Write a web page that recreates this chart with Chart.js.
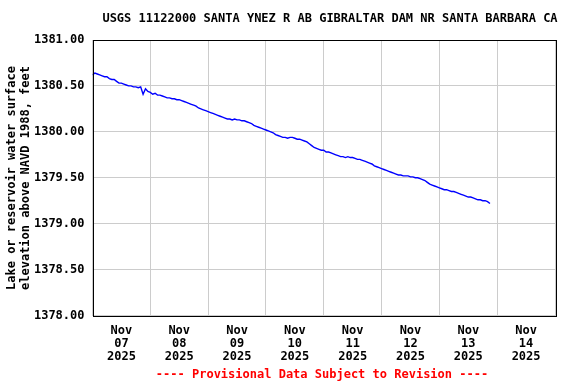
<!DOCTYPE html>
<html>
<head>
<meta charset="utf-8">
<script src="https://cdn.jsdelivr.net/npm/chart.js@4"></script>
<style>
html,body{margin:0;padding:0;background:#fff;}
canvas{display:block;}
</style>
</head>
<body>
<canvas id="c" width="576" height="384"></canvas>
<script>
// Hourly gage height readings, starting Nov 07 2025 00:00 (feet, NAVD 1988)
const elevation = [
 1380.62,1380.64,1380.63,1380.62,1380.61,1380.60,1380.60,1380.58,1380.57,1380.57,1380.55,1380.53,
 1380.53,1380.52,1380.51,1380.50,1380.50,1380.49,1380.49,1380.48,1380.49,1380.41,1380.47,1380.44,
 1380.43,1380.41,1380.42,1380.40,1380.40,1380.39,1380.38,1380.37,1380.37,1380.36,1380.36,1380.35,
 1380.35,1380.34,1380.33,1380.32,1380.31,1380.30,1380.29,1380.28,1380.26,1380.25,1380.24,1380.23,
 1380.22,1380.21,1380.20,1380.19,1380.18,1380.17,1380.16,1380.15,1380.14,1380.14,1380.13,1380.14,
 1380.13,1380.13,1380.12,1380.12,1380.11,1380.10,1380.09,1380.07,1380.06,1380.05,1380.04,1380.03,
 1380.02,1380.01,1380.00,1379.99,1379.97,1379.96,1379.95,1379.94,1379.94,1379.93,1379.94,1379.94,
 1379.93,1379.92,1379.92,1379.91,1379.90,1379.89,1379.87,1379.85,1379.83,1379.82,1379.81,1379.80,
 1379.80,1379.78,1379.78,1379.77,1379.76,1379.75,1379.74,1379.73,1379.73,1379.72,1379.73,1379.72,
 1379.72,1379.71,1379.70,1379.70,1379.69,1379.68,1379.67,1379.66,1379.65,1379.63,1379.62,1379.61,
 1379.60,1379.59,1379.58,1379.57,1379.56,1379.55,1379.54,1379.53,1379.53,1379.52,1379.52,1379.52,
 1379.51,1379.51,1379.50,1379.50,1379.49,1379.48,1379.47,1379.45,1379.43,1379.42,1379.41,1379.40,
 1379.39,1379.38,1379.37,1379.37,1379.36,1379.35,1379.35,1379.34,1379.33,1379.32,1379.31,1379.30,
 1379.29,1379.29,1379.28,1379.27,1379.26,1379.26,1379.25,1379.25,1379.24,1379.22
];
const monthLabel = 'Nov';
const yearLabel = '2025';
const dayLabels = ['07','08','09','10','11','12','13','14'];
const yTicks = [1378.0,1378.5,1379.0,1379.5,1380.0,1380.5,1381.0];
const titleText = 'USGS 11122000 SANTA YNEZ R AB GIBRALTAR DAM NR SANTA BARBARA CA';
const yTitleLines = ['Lake or reservoir water surface','elevation above NAVD 1988, feet'];
const footerText = '---- Provisional Data Subject to Revision ----';

const FONT = '"DejaVu Sans Mono", "Liberation Mono", monospace';
const points = elevation.map((v,i)=>({x:i, y:v}));

const textPlugin = {
  id:'texts',
  afterDraw(chart){
    const ctx = chart.ctx, a = chart.chartArea;
    ctx.save();
    ctx.strokeStyle = '#000';
    ctx.lineWidth = 1;
    ctx.strokeRect(Math.round(a.left)+0.5, Math.round(a.top)+0.5, Math.round(a.right-a.left), Math.round(a.bottom-a.top));
    ctx.font = 'bold 12px ' + FONT;
    ctx.fillStyle = '#000';
    ctx.textAlign = 'center';
    ctx.textBaseline = 'middle';
    ctx.fillText(titleText, 330, 19);
    ctx.save();
    ctx.translate(0, 178);
    ctx.rotate(-Math.PI/2);
    ctx.fillText(yTitleLines[0], 0, 12);
    ctx.fillText(yTitleLines[1], 0, 26);
    ctx.restore();
    ctx.fillStyle = '#ff0000';
    ctx.fillText(footerText, 322, 375);
    ctx.restore();
  }
};

new Chart(document.getElementById('c'), {
  type:'line',
  data:{datasets:[{data:points, borderColor:'#0000ff', borderWidth:1.4, pointRadius:0, tension:0, fill:false}]},
  options:{
    responsive:false, animation:false, devicePixelRatio:1,
    layout:{padding:{top:40, right:21, bottom:0, left:0}},
    plugins:{legend:{display:false}, tooltip:{enabled:false}, title:{display:false}},
    scales:{
      x:{
        type:'linear', min:0, max:192,
        afterBuildTicks(s){ const t=[]; for(let h=0;h<=192;h+=12) t.push({value:h}); s.ticks=t; },
        afterFit(s){ s.height = 68.5; },
        grid:{drawTicks:false, lineWidth:1, color:(c)=> (c.tick && c.tick.value%24===0) ? '#cccccc' : 'rgba(0,0,0,0)'},
        border:{display:false},
        ticks:{autoSkip:false, maxRotation:0, minRotation:0, padding:9, color:'#000',
          font:{family:FONT, size:12, weight:'bold', lineHeight:1.08},
          callback:(v)=> (v%24===12) ? [monthLabel, dayLabels[Math.floor(v/24)], yearLabel] : ''}
      },
      y:{
        min:1378, max:1381,
        afterBuildTicks(s){ s.ticks = yTicks.map(v=>({value:v})); },
        afterFit(s){ s.width = 92.5; },
        grid:{drawTicks:false, color:'#cccccc', lineWidth:1},
        border:{display:false},
        ticks:{padding:8, color:'#000', font:{family:FONT, size:12, weight:'bold'},
          callback:(v)=> Number(v).toFixed(2)}
      }
    }
  },
  plugins:[textPlugin]
});
</script>
</body>
</html>
